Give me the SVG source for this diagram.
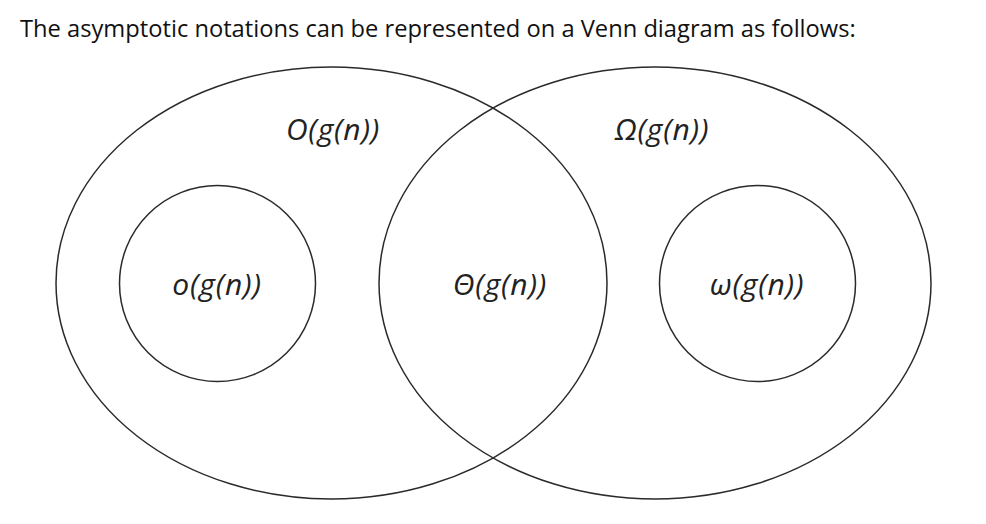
<svg xmlns="http://www.w3.org/2000/svg" width="986" height="524" viewBox="0 0 986 524">
<style>
.title{font-family:"Open Sans","Liberation Sans",sans-serif;font-size:23.7px;fill:#111}
.shape{fill:none;stroke:#2a2a2a;stroke-width:1.5}
.lbl{font-family:"Open Sans","Liberation Sans",sans-serif;font-style:italic;font-size:30px;letter-spacing:0.8px;fill:#222;text-anchor:middle}
</style>
<rect width="986" height="524" fill="#fff"/>
<text class="title" x="20" y="37">The asymptotic notations can be represented on a Venn diagram as follows:</text>
<g id="bigO">
<ellipse class="shape" cx="331.5" cy="283" rx="275.5" ry="216"/>
<text class="lbl" x="333" y="140">O(g(n))</text>
</g>
<g id="bigOmega">
<ellipse class="shape" cx="655" cy="283" rx="276" ry="216"/>
<text class="lbl" x="662" y="140">Ω(g(n))</text>
</g>
<g id="littleo">
<circle class="shape" cx="217.5" cy="283.5" r="98"/>
<text class="lbl" x="217" y="295">o(g(n))</text>
</g>
<g id="theta">
<text class="lbl" x="500" y="295">Θ(g(n))</text>
</g>
<g id="littleomega">
<circle class="shape" cx="757.5" cy="283.5" r="98"/>
<text class="lbl" x="757" y="295">ω(g(n))</text>
</g>
<g id="connectors"></g>
</svg>
